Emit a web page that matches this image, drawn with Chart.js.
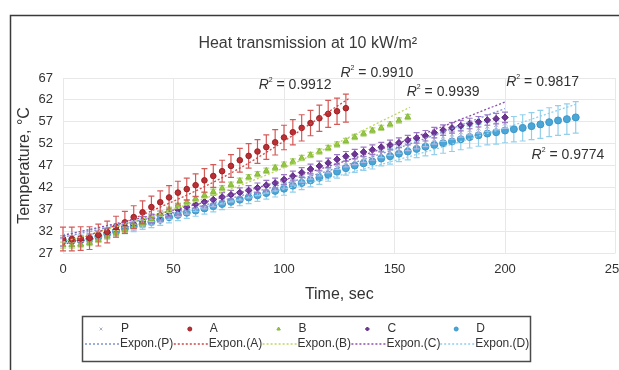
<!DOCTYPE html>
<html>
<head>
<meta charset="utf-8">
<script src="https://cdn.jsdelivr.net/npm/chart.js@4.4.1/dist/chart.umd.min.js"></script>
<style>
  html, body { margin: 0; padding: 0; background: #fff; overflow: hidden; }
  #wrap { width: 619px; height: 370px; overflow: hidden; }
</style>
</head>
<body>
<div id="wrap"><canvas id="chart" width="640" height="370"></canvas></div>
<script>
// sample times (sec)
const time = [0,4,8,12,16,20,24,28,32,36,40,44,48,52,56,60,64,68,72,76,80,84,88,92,96,100,
  104,108,112,116,120,124,128,132,136,140,144,148,152,156,160,164,168,172,176,180,184,188,192,
  196,200,204,208,212,216,220,224,228,232];

const yTicks = [27, 32, 37, 42, 47, 52, 57, 62, 67];

// temperatures
const seriesP = [29.4,29.4,29.6,30.0,30.6,31.3,31.9,32.5,33.1,33.7, 34.3,34.9,35.6,36.2,36.8,37.4,38.0,38.5,39.1,39.6,
  40.1,40.6,41.1,41.7,42.2,42.8,43.5,44.2,44.9,45.6, 46.3,47.1,47.7,48.2,48.7,49.2,49.8,50.3,50.8,51.4,
  51.9,52.4,53.0,53.6,54.1,54.6,55.1,55.5,55.9,56.3,56.6];
const seriesA = [30.2,30.2,30.3,30.4,31.1,31.8,33.0,34.0,35.2,36.3, 37.5,38.6,39.7,40.8,41.6,42.5,43.6,44.6,45.7,46.9,
  48.2,49.2,50.2,51.2,52.3,53.4,54.6,55.6,56.7,57.8, 58.8,59.4,60.1];
const seriesB = [28.8,28.8,28.9,29.3,30.0,30.8,31.5,32.3,33.0,33.8, 34.8,35.9,36.9,37.8,38.6,39.4,40.2,41.0,41.8,42.6,
  43.5,44.3,45.0,45.8,46.5,47.2,47.9,48.7,49.4,50.2, 51.0,51.8,52.6,53.5,54.3,55.0,55.6,56.4,57.3,58.1];
const seriesC = [29.6,29.6,29.8,30.3,31.0,31.7,32.3,33.0,33.6,34.3, 34.9,35.6,36.3,36.9,37.5,38.1,38.7,39.2,39.8,40.3,
  40.8,41.3,41.9,42.5,43.0,43.8,44.6,45.4,46.2,46.9, 47.6,48.4,49.1,49.6,50.1,50.6,51.2,51.7,52.2,52.8,
  53.3,53.8,54.5,55.1,55.6,56.1,56.6,57.0,57.4,57.7,58.0];
const seriesD = [29.8,29.8,29.9,30.2,30.7,31.4,31.9,32.6,33.1,33.6, 34.1,34.6,35.2,35.7,36.2,36.7,37.2,37.7,38.2,38.7,
  39.2,39.7,40.2,40.7,41.2,41.7,42.4,43.0,43.6,44.2, 44.9,45.6,46.4,47.0,47.5,47.9,48.6,49.1,49.7,50.2,
  50.8,51.3,51.7,52.1,52.5,53.0,53.5,53.9,54.3,54.6, 55.0,55.3,55.6,56.0,56.4,56.9,57.3,57.6,58.0];

// error bar half-heights
const errP = [0.9,0.9,0.9,0.9,0.9,0.9,0.9,0.9,0.9,0.9, 0.9,0.9,0.9,0.9,0.9,0.9,0.9,0.9,0.9,0.9,
  1.0,1.0,1.0,1.0,1.0,1.0,1.0,1.0,1.0,1.0, 1.0,1.0,1.0,1.0,1.0,1.0,1.0,1.0,1.0,1.0,
  1.1,1.1,1.1,1.1,1.1,1.1,1.1,1.1,1.1,1.1,1.1];
const errA = [2.7,2.7,2.7,2.6,2.5,2.5,2.4,2.5,2.6,2.6, 2.5,2.6,2.7,2.6,2.5,2.6,2.7,2.6,2.5,2.6,
  2.7,2.8,2.7,2.8,2.9,2.8,2.9,3.0,2.9,3.0, 3.1,3.0,3.2];
const errB = [0.7,0.7,0.7,0.6,0.6,0.6,0.6,0.6,0.6,0.6, 0.6,0.6,0.6,0.6,0.6,0.6,0.6,0.6,0.6,0.6,
  0.6,0.6,0.6,0.6,0.6,0.6,0.6,0.6,0.6,0.6, 0.6,0.6,0.6,0.6,0.6,0.6,0.6,0.6,0.6,0.6];
const errC = [1.0,1.0,1.0,1.0,1.0,1.0,1.0,1.0,1.0,1.0, 1.0,1.0,1.0,1.0,1.0,1.0,1.0,1.0,1.0,1.0,
  1.1,1.1,1.1,1.1,1.1,1.1,1.1,1.1,1.1,1.1, 1.1,1.1,1.1,1.1,1.1,1.1,1.1,1.1,1.1,1.1,
  1.2,1.2,1.2,1.2,1.2,1.2,1.2,1.2,1.2,1.2,1.2];
const errD = [1.2,1.2,1.2,1.2,1.2,1.2,1.2,1.2,1.2,1.2, 1.3,1.3,1.3,1.3,1.3,1.3,1.3,1.3,1.3,1.3,
  1.4,1.4,1.4,1.4,1.4,1.5,1.5,1.5,1.5,1.5, 1.5,1.5,1.6,1.6,1.6,1.7,1.7,1.8,1.8,1.9,
  2.0,2.1,2.2,2.3,2.3,2.4,2.5,2.5,2.6,2.7, 2.8,2.9,3.0,3.1,3.2,3.3,3.4,3.5,3.6];

// exponential trend lines [time, temp]
const trendP = [[0,30.6],[50,36.2],[100,42.8],[150,50.7],[200,60.0]];
const trendA = [[0,28.8],[40,36.6],[80,46.4],[130,62.5]];
const trendB = [[0,29.5],[50,37.0],[100,46.5],[157,60.3]];
const trendC = [[0,31.0],[50,36.8],[100,43.7],[150,51.8],[200,61.5]];
const trendD = [[0,31.2],[50,36.0],[100,41.6],[150,48.1],[200,55.6],[232,61.0]];

const r2Values = ['0.9912', '0.9910', '0.9939', '0.9817', '0.9774'];
// where each R² note sits, in axis units (centre of the text)
const r2Pos = [[105, 65.4], [142, 68.1], [172, 63.8], [217, 66.1], [228.5, 49.4]];

const FONT = "'Liberation Sans', Arial, sans-serif";
const TXT = '#333';

function pts(vals) {
  return vals.map((v, i) => ({ x: time[i], y: v }));
}
function pairPts(arr) {
  return arr.map(p => ({ x: p[0], y: p[1] }));
}

function trend(label, data, color) {
  return {
    type: 'line', label: label, data: pairPts(data),
    borderColor: color, borderWidth: 1.3, borderDash: [2, 2],
    pointRadius: 0, fill: false, cubicInterpolationMode: 'monotone'
  };
}

const datasets = [
  trend('Expon.(P)', trendP, '#7f93d6'),
  trend('Expon.(A)', trendA, '#d04545'),
  trend('Expon.(B)', trendB, '#bcd75e'),
  trend('Expon.(C)', trendC, '#8e4fb0'),
  trend('Expon.(D)', trendD, '#8fd0ee'),
  { label: 'A', data: pts(seriesA), errors: errA, errorColor: '#d45a58', showLine: false,
    pointStyle: 'circle', pointRadius: 2.8, backgroundColor: '#b92f33', borderColor: '#9e2226', borderWidth: 1 },
  { label: 'B', data: pts(seriesB), errors: errB, errorColor: '#b5d882', showLine: false,
    pointStyle: 'triangle', pointRadius: 3.3, backgroundColor: '#95c842', borderColor: '#86b836', borderWidth: 1 },
  { label: 'C', data: pts(seriesC), errors: errC, errorColor: '#9d78c4', showLine: false,
    pointStyle: 'rectRot', pointRadius: 3.3, backgroundColor: '#6d3494', borderColor: '#5e2a84', borderWidth: 1 },
  { label: 'P', data: pts(seriesP), errors: errP, errorColor: '#aeb8e2', showLine: false,
    pointStyle: 'crossRot', pointRadius: 3, backgroundColor: '#b9bfcf', borderColor: '#a9b0c6', borderWidth: 1 },
  { label: 'D', data: pts(seriesD), errors: errD, errorColor: '#93cfeb', showLine: false,
    pointStyle: 'circle', pointRadius: 3.5, backgroundColor: '#4aa6d6', borderColor: '#3d98c9', borderWidth: 1 }
];

// outer frame (only its left and top edges fall inside the picture)
const frame = {
  id: 'frame',
  beforeDraw(chart) {
    const ctx = chart.ctx;
    ctx.save();
    ctx.fillStyle = '#fff';
    ctx.fillRect(0, 0, chart.width, chart.height);
    ctx.strokeStyle = '#3a3a3a';
    ctx.lineWidth = 1.5;
    ctx.beginPath();
    ctx.moveTo(10.5, chart.height);
    ctx.lineTo(10.5, 15.5);
    ctx.lineTo(chart.width, 15.5);
    ctx.stroke();
    ctx.restore();
  }
};

// vertical error bars, drawn under each dataset's points
const errorBars = {
  id: 'errorBars',
  beforeDatasetDraw(chart, args) {
    const ds = chart.data.datasets[args.index];
    if (!ds.errors) return;
    const ys = chart.scales.y;
    const ctx = chart.ctx;
    ctx.save();
    ctx.strokeStyle = ds.errorColor;
    ctx.lineWidth = 1.2;
    args.meta.data.forEach((el, i) => {
      const v = ds.data[i].y, e = ds.errors[i];
      const t = ys.getPixelForValue(v + e), b = ys.getPixelForValue(v - e);
      ctx.beginPath();
      ctx.moveTo(el.x, t); ctx.lineTo(el.x, b);
      ctx.moveTo(el.x - 3, t); ctx.lineTo(el.x + 3, t);
      ctx.moveTo(el.x - 3, b); ctx.lineTo(el.x + 3, b);
      ctx.stroke();
    });
    ctx.restore();
  }
};

// R² notes
const r2Notes = {
  id: 'r2Notes',
  afterDatasetsDraw(chart) {
    const ctx = chart.ctx;
    const xs = chart.scales.x, ys = chart.scales.y;
    ctx.save();
    ctx.fillStyle = TXT;
    ctx.textBaseline = 'middle';
    r2Values.forEach((val, i) => {
      const rest = ' = ' + val;
      ctx.font = 'italic 14px ' + FONT;
      const wR = ctx.measureText('R').width;
      ctx.font = '7px ' + FONT;
      const w2 = ctx.measureText('2').width;
      ctx.font = '14px ' + FONT;
      const wRest = ctx.measureText(rest).width;
      const cx = xs.getPixelForValue(r2Pos[i][0]);
      const cy = ys.getPixelForValue(r2Pos[i][1]);
      let x = cx - (wR + w2 + wRest) / 2;
      ctx.textAlign = 'left';
      ctx.font = 'italic 14px ' + FONT;
      ctx.fillText('R', x, cy);
      x += wR;
      ctx.font = '7px ' + FONT;
      ctx.fillText('2', x, cy - 5);
      x += w2;
      ctx.font = '14px ' + FONT;
      ctx.fillText(rest, x, cy);
    });
    ctx.restore();
  }
};

// boxed legend: markers on the first row, trend lines on the second
const legendOrder = ['P', 'A', 'B', 'C', 'D'];
const boxedLegend = {
  id: 'boxedLegend',
  afterDraw(chart) {
    const ctx = chart.ctx;
    const all = chart.data.datasets;
    ctx.save();
    ctx.strokeStyle = '#4a4a4a';
    ctx.lineWidth = 1.5;
    ctx.strokeRect(82.5, 316.5, 448, 45);
    ctx.font = '12px ' + FONT;
    ctx.textBaseline = 'middle';
    ctx.textAlign = 'left';
    legendOrder.forEach((name, i) => {
      const x0 = 84 + i * 88.8;
      const ds = all.find(d => d.label === name);
      const tr = all.find(d => d.label === 'Expon.(' + name + ')');
      ctx.fillStyle = ds.backgroundColor;
      ctx.strokeStyle = ds.borderColor;
      ctx.lineWidth = 1;
      Chart.helpers.drawPoint(ctx, { pointStyle: ds.pointStyle, radius: 2, rotation: 0, borderWidth: 1 }, x0 + 17, 329);
      ctx.fillStyle = TXT;
      ctx.fillText(name, x0 + 37, 329);
      ctx.strokeStyle = tr.borderColor;
      ctx.lineWidth = 1.3;
      ctx.setLineDash([2, 2]);
      ctx.beginPath();
      ctx.moveTo(x0 + 1, 344); ctx.lineTo(x0 + 35, 344);
      ctx.stroke();
      ctx.setLineDash([]);
      ctx.fillStyle = TXT;
      ctx.fillText(tr.label, x0 + 36, 344);
    });
    ctx.restore();
  }
};

new Chart(document.getElementById('chart'), {
  type: 'scatter',
  data: { datasets: datasets },
  plugins: [frame, errorBars, r2Notes, boxedLegend],
  options: {
    responsive: false,
    animation: false,
    devicePixelRatio: 1,
    events: [],
    layout: { padding: { top: 16, left: 0, right: 24.5, bottom: 61.4 } },
    plugins: {
      legend: { display: false },
      tooltip: { enabled: false },
      title: {
        display: true,
        text: 'Heat transmission at 10 kW/m²',
        color: '#3a3a3a',
        font: { family: FONT, size: 16, weight: 'normal' },
        padding: { top: 18.4, bottom: 24.4 }
      }
    },
    scales: {
      x: {
        type: 'linear', min: 0, max: 250,
        ticks: { stepSize: 50, color: TXT, font: { family: FONT, size: 13 }, padding: 9 },
        grid: { color: '#e8e8e8', drawTicks: false },
        border: { display: false },
        title: { display: true, text: 'Time, sec', color: TXT, font: { family: FONT, size: 16 }, padding: { top: 0, bottom: 4 } },
        afterFit(s) { s.height = 55.6; }
      },
      y: {
        min: 27, max: 67,
        afterBuildTicks(s) { s.ticks = yTicks.map(v => ({ value: v })); },
        ticks: { color: TXT, font: { family: FONT, size: 13 }, padding: 10 },
        grid: { color: '#e8e8e8', drawTicks: false },
        border: { display: false },
        title: { display: true, text: 'Temperature, °C', color: TXT, font: { family: FONT, size: 16 }, padding: { top: 15.4, bottom: 0 } },
        afterFit(s) { s.width = 63; }
      }
    }
  }
});
</script>
</body>
</html>
